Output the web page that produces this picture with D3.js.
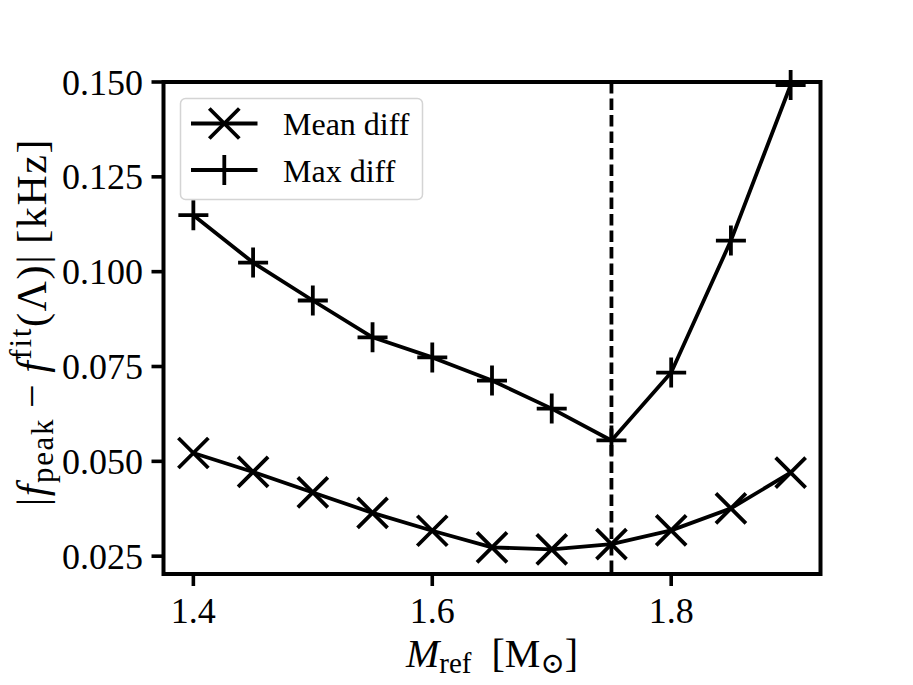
<!DOCTYPE html>
<html>
<head>
<meta charset="utf-8">
<script src="https://cdn.jsdelivr.net/npm/d3@7"></script>
<style>
  body { margin: 0; background: #fff; }
  text { font-family: "Liberation Serif", "DejaVu Serif", serif; fill: #000; }
</style>
</head>
<body>
<div id="chart"></div>
<script>
// reference masses and the two error series (kHz)
var masses = [1.4, 1.45, 1.5, 1.55, 1.6, 1.65, 1.7, 1.75, 1.8, 1.85, 1.9];
var meanDiff = [0.0522, 0.0472, 0.0418, 0.0364, 0.0317, 0.0273, 0.0268, 0.0282, 0.0318, 0.0376, 0.0470];
var maxDiff = [0.1149, 0.1024, 0.0924, 0.0827, 0.0774, 0.0713, 0.0639, 0.0555, 0.0734, 0.1082, 0.1492];
var xTicks = [1.4, 1.6, 1.8];
var yTicks = [0.025, 0.050, 0.075, 0.100, 0.125, 0.150];
var refMass = 1.75;
var seriesNames = ["Mean diff", "Max diff"];

function drawChart(id) {
    var w = 913, h = 685;
    var plot = {left: 163.5, right: 820.5, top: 82, bottom: 574};
    var lw = 3.8;

    var svg = d3.select("#" + id).append("svg")
        .attr("width", w)
        .attr("height", h);

    var x = d3.scaleLinear().domain([1.375, 1.925]).range([plot.left, plot.right]);
    var y = d3.scaleLinear().domain([0.0203, 0.150]).range([plot.bottom, plot.top]);

    // ticks
    var ticks = svg.append("g").attr("id", "ticks");
    ticks.selectAll("line.xt")
        .data(xTicks)
        .enter()
        .append("line")
        .attr("class", "xt")
        .attr("x1", function(d) { return x(d); })
        .attr("x2", function(d) { return x(d); })
        .attr("y1", plot.bottom)
        .attr("y2", plot.bottom + 12)
        .attr("stroke", "#000")
        .attr("stroke-width", 3.6);
    ticks.selectAll("text.xt")
        .data(xTicks)
        .enter()
        .append("text")
        .attr("class", "xt")
        .attr("x", function(d) { return x(d); })
        .attr("y", 623)
        .attr("text-anchor", "middle")
        .attr("font-size", 36)
        .text(function(d) { return d3.format(".1f")(d); });

    ticks.selectAll("line.yt")
        .data(yTicks)
        .enter()
        .append("line")
        .attr("class", "yt")
        .attr("x1", plot.left - 12)
        .attr("x2", plot.left)
        .attr("y1", function(d) { return y(d); })
        .attr("y2", function(d) { return y(d); })
        .attr("stroke", "#000")
        .attr("stroke-width", 3.6);
    ticks.selectAll("text.yt")
        .data(yTicks)
        .enter()
        .append("text")
        .attr("class", "yt")
        .attr("x", 143)
        .attr("y", function(d) { return y(d) + 12.5; })
        .attr("text-anchor", "end")
        .attr("font-size", 36)
        .text(function(d) { return d3.format(".3f")(d); });

    // vertical dashed line at the reference mass
    svg.append("line")
        .attr("x1", x(refMass))
        .attr("x2", x(refMass))
        .attr("y1", plot.top)
        .attr("y2", plot.bottom)
        .attr("stroke", "#000")
        .attr("stroke-width", lw)
        .attr("stroke-dasharray", "11.5,5");

    var line = d3.line()
        .x(function(d) { return x(d[0]); })
        .y(function(d) { return y(d[1]); });

    var meanPts = d3.zip(masses, meanDiff);
    var maxPts = d3.zip(masses, maxDiff);

    var curves = svg.append("g").attr("id", "curves");
    curves.append("path")
        .datum(meanPts)
        .attr("d", line)
        .attr("fill", "none")
        .attr("stroke", "#000")
        .attr("stroke-width", lw)
        .attr("stroke-linejoin", "round");
    curves.append("path")
        .datum(maxPts)
        .attr("d", line)
        .attr("fill", "none")
        .attr("stroke", "#000")
        .attr("stroke-width", lw)
        .attr("stroke-linejoin", "round");

    var ms = 15;
    function crossPath(cx, cy) {
        return "M" + (cx - ms) + "," + (cy - ms) + "L" + (cx + ms) + "," + (cy + ms) +
               "M" + (cx - ms) + "," + (cy + ms) + "L" + (cx + ms) + "," + (cy - ms);
    }
    function plusPath(cx, cy) {
        return "M" + (cx - ms) + "," + cy + "L" + (cx + ms) + "," + cy +
               "M" + cx + "," + (cy - ms) + "L" + cx + "," + (cy + ms);
    }

    curves.selectAll("path.mx")
        .data(meanPts)
        .enter()
        .append("path")
        .attr("class", "mx")
        .attr("d", function(d) { return crossPath(x(d[0]), y(d[1])); })
        .attr("stroke", "#000")
        .attr("stroke-width", lw);
    curves.selectAll("path.mp")
        .data(maxPts)
        .enter()
        .append("path")
        .attr("class", "mp")
        .attr("d", function(d) { return plusPath(x(d[0]), y(d[1])); })
        .attr("stroke", "#000")
        .attr("stroke-width", lw);

    // frame
    svg.append("rect")
        .attr("x", plot.left)
        .attr("y", plot.top)
        .attr("width", plot.right - plot.left)
        .attr("height", plot.bottom - plot.top)
        .attr("fill", "none")
        .attr("stroke", "#000")
        .attr("stroke-width", 4);

    // legend
    var legend = svg.append("g").attr("id", "legend");
    legend.append("rect")
        .attr("x", 180.5)
        .attr("y", 98.5)
        .attr("width", 242)
        .attr("height", 101)
        .attr("rx", 5)
        .attr("fill", "#fff")
        .attr("fill-opacity", 0.8)
        .attr("stroke", "#d4d4d4")
        .attr("stroke-width", 1.5);

    var rows = [123.5, 170];
    seriesNames.forEach(function(name, i) {
        var ly = rows[i];
        legend.append("line")
            .attr("x1", 191)
            .attr("x2", 257.5)
            .attr("y1", ly)
            .attr("y2", ly)
            .attr("stroke", "#000")
            .attr("stroke-width", lw);
        legend.append("path")
            .attr("d", i == 0 ? crossPath(224.3, ly) : plusPath(224.3, ly))
            .attr("stroke", "#000")
            .attr("stroke-width", lw);
        legend.append("text")
            .attr("x", 283)
            .attr("y", ly + 11.5)
            .attr("font-size", 32)
            .text(name);
    });

    // x label
    var xl = svg.append("text")
        .attr("x", (plot.left + plot.right) / 2)
        .attr("y", 667)
        .attr("text-anchor", "middle")
        .attr("font-size", 40);
    xl.append("tspan").attr("font-style", "italic").text("M");
    xl.append("tspan").attr("font-size", 29).attr("dy", 6).text("ref");
    xl.append("tspan").attr("dy", -6).text("\u2002[M");
    xl.append("tspan").attr("font-size", 29).attr("dy", 6).text("\u2299");
    xl.append("tspan").attr("dy", -6).text("]");

    // y label
    var yl = svg.append("text")
        .attr("transform", "translate(46,322) rotate(-90)")
        .attr("text-anchor", "middle")
        .attr("font-size", 42)
        .attr("letter-spacing", 1.6);
    yl.append("tspan").text("|");
    yl.append("tspan").attr("font-style", "italic").text("f");
    yl.append("tspan").attr("font-size", 31).attr("dy", 7).text("peak");
    yl.append("tspan").attr("dy", -7).text("\u2009\u2212\u2009");
    yl.append("tspan").attr("font-style", "italic").text("f");
    yl.append("tspan").attr("font-size", 31).attr("dy", -15).text("fit");
    yl.append("tspan").attr("dy", 15).text("(\u039B)|\u2009[kHz]");
}

drawChart("chart");
</script>
</body>
</html>
